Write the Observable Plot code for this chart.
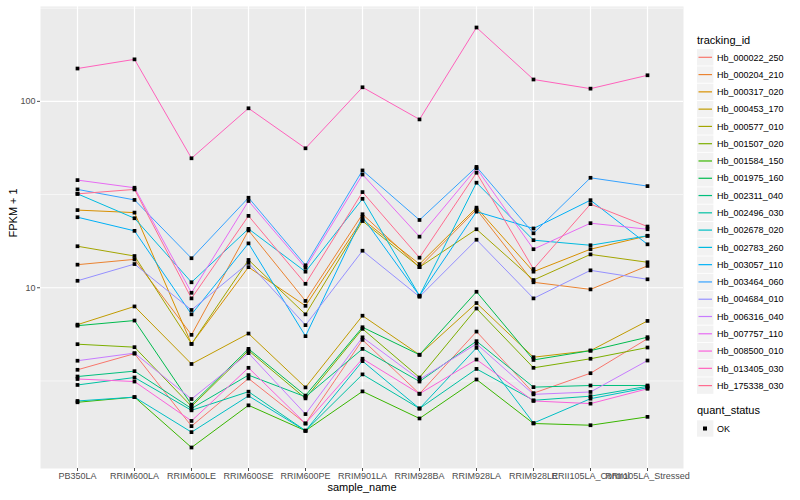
<!DOCTYPE html>
<html><head><meta charset="utf-8">
<script src="https://cdn.jsdelivr.net/npm/d3@7"></script>
<script src="https://cdn.jsdelivr.net/npm/@observablehq/plot@0.6"></script>
<style>
body{margin:0;background:#fff;}
#wrap{position:relative;width:800px;height:500px;font-family:"Liberation Sans",Arial,sans-serif;}
</style></head><body><div id="wrap"></div>
<script>
const samples = ["PB350LA","RRIM600LA","RRIM600LE","RRIM600SE","RRIM600PE","RRIM901LA","RRIM928BA","RRIM928LA","RRIM928LE","RRII105LA_Control","RRII105LA_Stressed"];
const trackingIds = ["Hb_000022_250","Hb_000204_210","Hb_000317_020","Hb_000453_170","Hb_000577_010","Hb_001507_020","Hb_001584_150","Hb_001975_160","Hb_002311_040","Hb_002496_030","Hb_002678_020","Hb_002783_260","Hb_003057_110","Hb_003464_060","Hb_004684_010","Hb_006316_040","Hb_007757_110","Hb_008500_010","Hb_013405_030","Hb_175338_030"];
const palette = ["#F8766D","#EA8331","#D89000","#C09B00","#A3A500","#7CAE00","#39B600","#00BB4E","#00BF7D","#00C1A3","#00BFC4","#00BAE0","#00B0F6","#35A2FF","#9590FF","#C77CFF","#E76BF3","#FA62DB","#FF62BC","#FF6C90"];
const quantStatus = ["OK"];

// FPKM + 1 per sample (order of samples)
const Hb_000022_250 = [3.63, 4.43, 1.81, 3.26, 1.87, 5.25, 2.70, 5.82, 2.72, 3.48, 5.33];
const Hb_000204_210 = [13.3, 14.2, 5.59, 20.3, 8.5, 24.8, 12.9, 26.3, 10.7, 9.8, 13.1];
const Hb_000317_020 = [26.1, 25.3, 5.0, 12.9, 8.0, 23.3, 13.4, 26.9, 12.2, 16.1, 19.0];
const Hb_000453_170 = [6.34, 7.94, 3.9, 5.68, 2.92, 7.08, 4.37, 8.28, 4.24, 4.60, 6.64];
const Hb_000577_010 = [16.7, 14.8, 5.0, 14.1, 7.2, 22.8, 12.9, 20.6, 11.0, 15.1, 13.7];
const Hb_001507_020 = [4.98, 4.80, 2.31, 4.6, 2.55, 6.02, 3.30, 7.74, 3.72, 4.16, 4.78];
const Hb_001584_150 = [2.43, 2.59, 1.39, 2.34, 1.71, 2.78, 1.99, 3.22, 1.87, 1.83, 2.03];
const Hb_001975_160 = [6.26, 6.67, 2.36, 4.70, 2.64, 6.14, 4.37, 9.52, 4.10, 4.60, 5.43];
const Hb_002311_040 = [3.34, 3.57, 2.25, 3.40, 2.60, 4.70, 3.14, 5.17, 2.93, 2.99, 2.99];
const Hb_002496_030 = [3.01, 3.30, 2.20, 2.77, 1.71, 3.43, 2.25, 3.67, 2.49, 2.62, 2.96];
const Hb_002678_020 = [2.47, 2.59, 1.68, 2.63, 1.71, 4.04, 2.25, 4.76, 1.88, 2.54, 2.91];
const Hb_002783_260 = [31.9, 23.6, 10.7, 20.7, 12.2, 30.0, 9.06, 36.6, 18.0, 16.9, 19.0];
const Hb_003057_110 = [23.9, 20.2, 7.2, 17.3, 5.5, 24.0, 9.06, 25.6, 20.8, 29.5, 17.1];
const Hb_003464_060 = [33.7, 29.6, 14.4, 30.4, 13.2, 42.6, 23.1, 44.5, 19.6, 38.9, 35.1];
const Hb_004684_010 = [10.9, 13.4, 7.6, 13.6, 6.3, 15.8, 8.95, 18.1, 8.77, 12.4, 11.1];
const Hb_006316_040 = [4.06, 4.46, 2.53, 4.46, 2.10, 5.42, 3.22, 5.0, 2.68, 2.76, 4.07];
const Hb_007757_110 = [37.8, 34.4, 9.4, 29.2, 12.8, 40.5, 18.8, 43.7, 16.1, 22.2, 20.6];
const Hb_008500_010 = [3.24, 3.14, 1.93, 3.72, 1.87, 4.16, 2.70, 4.12, 2.47, 2.39, 2.87];
const Hb_013405_030 = [150, 168, 49.5, 91.8, 56, 119, 80, 249, 131, 117, 138];
const Hb_175338_030 = [31.9, 33.7, 8.77, 24.3, 10.5, 32.6, 14.5, 41.4, 12.6, 28.1, 21.3];

const seriesValues = [Hb_000022_250,Hb_000204_210,Hb_000317_020,Hb_000453_170,Hb_000577_010,Hb_001507_020,Hb_001584_150,Hb_001975_160,Hb_002311_040,Hb_002496_030,Hb_002678_020,Hb_002783_260,Hb_003057_110,Hb_003464_060,Hb_004684_010,Hb_006316_040,Hb_007757_110,Hb_008500_010,Hb_013405_030,Hb_175338_030];

const yTicks = [10, 100];
const yMinorTicks = [3.162, 31.62, 316.2];

const rows = [];
trackingIds.forEach((id, i) => {
  samples.forEach((s, j) => {
    rows.push({tracking_id: id, sample_name: s, fpkm: seriesValues[i][j], quant_status: quantStatus[0]});
  });
});

const [lo, hi] = d3.extent(rows, d => Math.log10(d.fpkm));
const pad = (hi - lo) * 0.05;
const yDomain = [Math.pow(10, lo - pad), Math.pow(10, hi + pad)];

const FONT = '"Liberation Sans", Arial, Helvetica, sans-serif';

const chart = Plot.plot({
  width: 800, height: 500,
  marginLeft: 40, marginRight: 117, marginTop: 6, marginBottom: 32,
  style: {fontFamily: FONT, fontSize: "9px", color: "#4D4D4D", background: "white"},
  x: {type: "point", domain: samples, padding: 0.6, label: null},
  y: {type: "log", domain: yDomain, label: null},
  color: {domain: trackingIds, range: palette},
  marks: [
    Plot.frame({fill: "#EBEBEB", stroke: null}),
    Plot.ruleY(yMinorTicks, {stroke: "white", strokeWidth: 0.6}),
    Plot.ruleY(yTicks, {stroke: "white", strokeWidth: 1.2}),
    Plot.ruleX(samples, {stroke: "white", strokeWidth: 1.2}),
    Plot.axisX({tickSize: 3, tickPadding: 1.5, label: null, fontSize: 9}),
    Plot.axisY({ticks: yTicks, tickSize: 3, tickPadding: 2, tickFormat: d => String(d), label: null, fontSize: 9}),
    Plot.line(rows, {x: "sample_name", y: "fpkm", z: "tracking_id", stroke: "tracking_id", strokeWidth: 1}),
    Plot.dot(rows, {x: "sample_name", y: "fpkm", symbol: "square", r: 2.1, fill: "black"}),
    Plot.text(["FPKM + 1"], {frameAnchor: "left", dx: -27, rotate: -90, fontSize: 11, fill: "black"}),
    Plot.text(["sample_name"], {frameAnchor: "bottom", dy: 22, fontSize: 11, fill: "black"})
  ]
});
const wrap = document.getElementById("wrap");
wrap.appendChild(chart);

// Legend
const leg = d3.select(wrap).append("svg")
  .attr("width", 110).attr("height", 500)
  .style("position", "absolute").style("left", "690px").style("top", "0px")
  .style("font-family", FONT);
leg.append("text").attr("x", 7).attr("y", 44).attr("font-size", 11).attr("fill", "black").text("tracking_id");
trackingIds.forEach((id, i) => {
  const cy = 57.3 + i * 17.28;
  leg.append("rect").attr("x", 7).attr("y", cy - 8.2).attr("width", 16.4).attr("height", 16.4).attr("fill", "#F2F2F2");
  leg.append("line").attr("x1", 8.5).attr("x2", 22).attr("y1", cy).attr("y2", cy).attr("stroke", palette[i]).attr("stroke-width", 1.2);
  leg.append("text").attr("x", 27).attr("y", cy + 3.2).attr("font-size", 9).attr("fill", "black").text(id);
});
leg.append("text").attr("x", 7).attr("y", 414).attr("font-size", 11).attr("fill", "black").text("quant_status");
quantStatus.forEach((q, i) => {
  const cy = 428.5 + i * 17.28;
  leg.append("rect").attr("x", 7).attr("y", cy - 8.2).attr("width", 16.4).attr("height", 16.4).attr("fill", "#F2F2F2");
  leg.append("rect").attr("x", 13).attr("y", cy - 2).attr("width", 4).attr("height", 4).attr("fill", "black");
  leg.append("text").attr("x", 27).attr("y", cy + 3.2).attr("font-size", 9).attr("fill", "black").text(q);
});
</script></body></html>
